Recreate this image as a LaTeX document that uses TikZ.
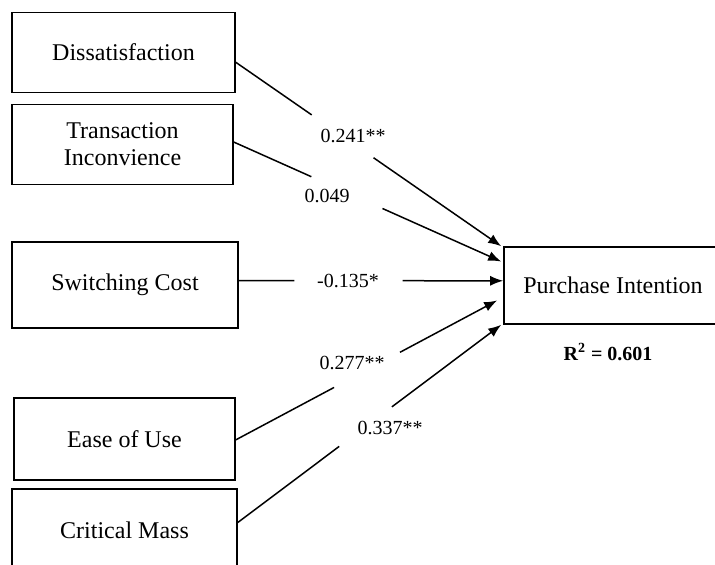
\documentclass[tikz,border=0pt]{standalone}
\usepackage{fontspec}
\setmainfont{Liberation Serif}
\usepackage{tikz}
\usetikzlibrary{arrows.meta, positioning, calc, shapes}
\tikzstyle{arrow} = [line width=0.75pt,-{Latex[length=6.5pt,width=5pt]}]
\tikzstyle{link} = [line width=0.75pt]
\tikzstyle{construct} = [rectangle, draw=black, line width=0.8pt, minimum width=111.5pt, minimum height=40pt, inner sep=0pt, text centered, align=center, font=\fontsize{12}{13.5}\selectfont]
\tikzstyle{coef} = [inner sep=1pt, font=\fontsize{10}{12}\selectfont]
\tikzset{
rsq/.style={inner sep=1pt, font=\fontsize{10}{12}\selectfont\bfseries}
}

\begin{document}
\begin{tikzpicture}[x=0.5pt, y=-0.5pt]
\useasboundingbox (0,0) rectangle (715,564);
\clip (0,0) rectangle (715,564);
%----------------------------------------------------------------------------
% Placement of construct boxes
\node (dis) [construct] at (123.5,52.5) {Dissatisfaction};
\node (trans) [construct, minimum width=110.5pt] at (122.5,144.5) {Transaction\\Inconvience};
\node (switch) [construct, minimum width=113pt, minimum height=43pt] at (125,285) {Switching Cost};
\node (ease) [construct, minimum width=110.5pt, minimum height=41pt] at (124.5,439) {Ease of Use};
\node (crit) [construct, minimum width=112.5pt, minimum height=41pt] at (124.5,530) {Critical Mass};
\node (pi) [construct, minimum width=109pt, minimum height=38.5pt] at (613,285.5) {Purchase Intention};
\node (r2) [rsq] at (608,352) {R\textsuperscript{2} = 0.601};

%----------------------------------------------------------------------------
% End points of the paths
\coordinate (disOut) at ($(dis.north east)!0.62!(dis.south east)$);
\coordinate (transOut) at ($(trans.north east)!0.47!(trans.south east)$);
\coordinate (switchOut) at ($(switch.north east)!0.45!(switch.south east)$);
\coordinate (easeOut) at ($(ease.north east)!0.51!(ease.south east)$);
\coordinate (critOut) at ($(crit.north east)!0.41!(crit.south east)$);

\coordinate (piIn1) at ([xshift=-1pt]pi.north west);
\coordinate (piIn2) at ($([xshift=-1pt]pi.north west)!0.195!([xshift=-1pt]pi.south west)$);
\coordinate (piIn3) at ($(pi.north west)!0.44!(pi.south west)$);
\coordinate (piIn4) at ($([xshift=-3pt]pi.north west)!0.69!([xshift=-3pt]pi.south west)$);
\coordinate (piIn5) at ([xshift=-1pt]pi.south west);

%----------------------------------------------------------------------------
% Lines
\draw [link] (disOut) -- ($(disOut)!0.286!(piIn1)$);
\draw [arrow] ($(disOut)!0.519!(piIn1)$) -- (piIn1);

\draw [link] (transOut) -- ($(transOut)!0.29!(piIn2)$);
\draw [arrow] ($(transOut)!0.556!(piIn2)$) -- (piIn2);

\draw [link] (switchOut) -- ($(switchOut)!0.21!(piIn3)$);
\draw [arrow] ($(switchOut)!0.62!(piIn3)$) -- (piIn3);

\draw [link] (easeOut) -- ($(easeOut)!0.376!(piIn4)$);
\draw [arrow] ($(easeOut)!0.628!(piIn4)$) -- (piIn4);

\draw [link] (critOut) -- ($(critOut)!0.385!(piIn5)$);
\draw [arrow] ($(critOut)!0.585!(piIn5)$) -- (piIn5);

%----------------------------------------------------------------------------
% Path coefficients
\node (c1) [coef] at (353,136) {0.241**};
\node (c2) [coef] at (327,196) {0.049};
\node (c3) [coef] at (348,281) {-0.135*};
\node (c4) [coef] at (352,363) {0.277**};
\node (c5) [coef] at (390,428) {0.337**};

\end{tikzpicture}
\end{document}
